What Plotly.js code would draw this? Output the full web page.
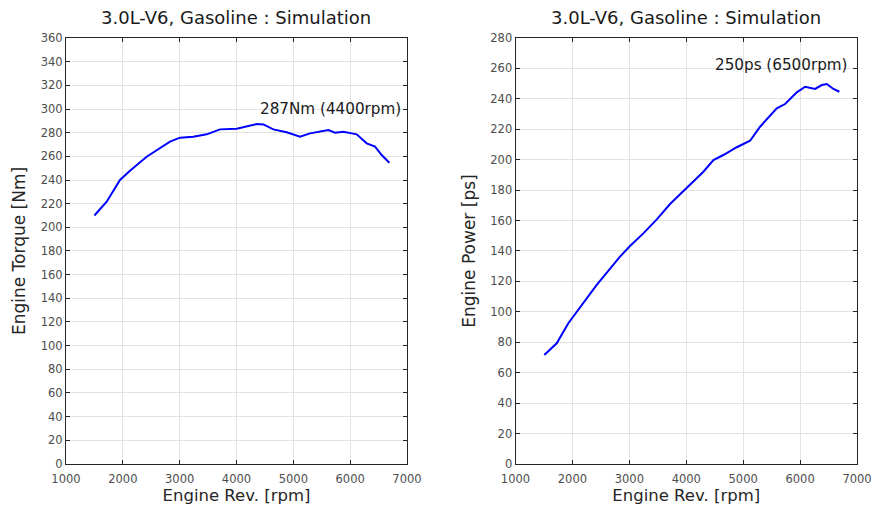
<!DOCTYPE html>
<html><head><meta charset="utf-8">
<script src="https://cdn.plot.ly/plotly-3.0.1.min.js"></script>
<style>html,body{margin:0;padding:0;background:#fff}#c{width:873px;height:511px}</style>
</head><body><div id="c"></div>
<script>
const torqueRpm = [1500,1716,1950,2126,2419,2830,3006,3240,3476,3710,4004,4356,4473,4648,4883,5118,5294,5616,5734,5880,6027,6115,6291,6438,6555,6689];
const torqueNm  = [210,221.7,240,247.9,259.7,272.4,275.8,276.6,278.6,282.8,283.4,287.3,287,282.8,280.3,276.6,279.4,282.3,280,280.8,279.4,278.6,271,268.2,261.1,254.6];
const powerRpm = [1506,1724,1928,2075,2427,2836,3012,3246,3482,3715,4009,4301,4477,4652,4887,5121,5297,5590,5736,5942,6088,6264,6381,6469,6586,6691];
const powerPs  = [71.6,79.3,92.5,100.1,117.7,136.3,143.3,151.6,160.8,170.9,181.2,192.1,199.8,203.1,208.2,212.5,221.7,233.8,236.6,244.3,248,246.5,249.1,249.8,246.5,244.7];
const titleText = "3.0L-V6, Gasoline : Simulation";
const torqueNote = "287Nm (4400rpm)";
const powerNote = "250ps (6500rpm)";

const F = '"DejaVu Sans", sans-serif';
const axBase = {showline:true, mirror:'ticks', linecolor:'#262626', linewidth:1, ticks:'inside', ticklen:4, tickcolor:'#262626',
  gridcolor:'#e3e3e3', gridwidth:1, zeroline:false, tickfont:{family:F, size:11.5, color:'#4d4d4d'}};
const xb = Object.assign({}, axBase, {range:[1000,7000], dtick:1000, tick0:1000, ticklabelstandoff:4, title:{text:'Engine Rev. [rpm]', font:{family:F,size:16.5,color:'#262626'}, standoff:3}});
const traces = [
  {x:torqueRpm, y:torqueNm, type:'scatter', mode:'lines', line:{color:'#0000ff', width:2}, xaxis:'x', yaxis:'y'},
  {x:powerRpm, y:powerPs, type:'scatter', mode:'lines', line:{color:'#0000ff', width:2}, xaxis:'x2', yaxis:'y2'}
];
const layout = {
  width:873, height:511, margin:{l:0,r:0,t:0,b:0}, showlegend:false,
  paper_bgcolor:'#fff', plot_bgcolor:'#fff', font:{family:F},
  xaxis:Object.assign({}, xb, {domain:[0.0756,0.4662], anchor:'y'}),
  yaxis:Object.assign({}, axBase, {domain:[0.092,0.9256], range:[0,360], dtick:20, anchor:'x', title:{text:'Engine Torque [Nm]', font:{family:F,size:17,color:'#262626'}, standoff:10}}),
  xaxis2:Object.assign({}, xb, {domain:[0.5905,0.9817], anchor:'y2'}),
  yaxis2:Object.assign({}, axBase, {domain:[0.092,0.9256], range:[0,280], dtick:20, anchor:'x2', title:{text:'Engine Power [ps]', font:{family:F,size:17,color:'#262626'}, standoff:10}}),
  annotations:[
    {text:titleText, xref:'x domain', yref:'paper', x:0.5, y:(511-17)/511, xanchor:'center', yanchor:'middle', showarrow:false, font:{family:F,size:18,color:'#1a1a1a'}},
    {text:titleText, xref:'x2 domain', yref:'paper', x:0.5, y:(511-17)/511, xanchor:'center', yanchor:'middle', showarrow:false, font:{family:F,size:18,color:'#1a1a1a'}},
    {text:torqueNote, xref:'x', yref:'y', x:6930, y:300, xanchor:'right', yanchor:'middle', showarrow:false, font:{family:F,size:15.2,color:'#1a1a1a'}},
    {text:powerNote, xref:'x2', yref:'y2', x:6880, y:262, xanchor:'right', yanchor:'middle', showarrow:false, font:{family:F,size:15.2,color:'#1a1a1a'}}
  ]
};
Plotly.newPlot('c', traces, layout, {displayModeBar:false, staticPlot:true});
</script></body></html>
